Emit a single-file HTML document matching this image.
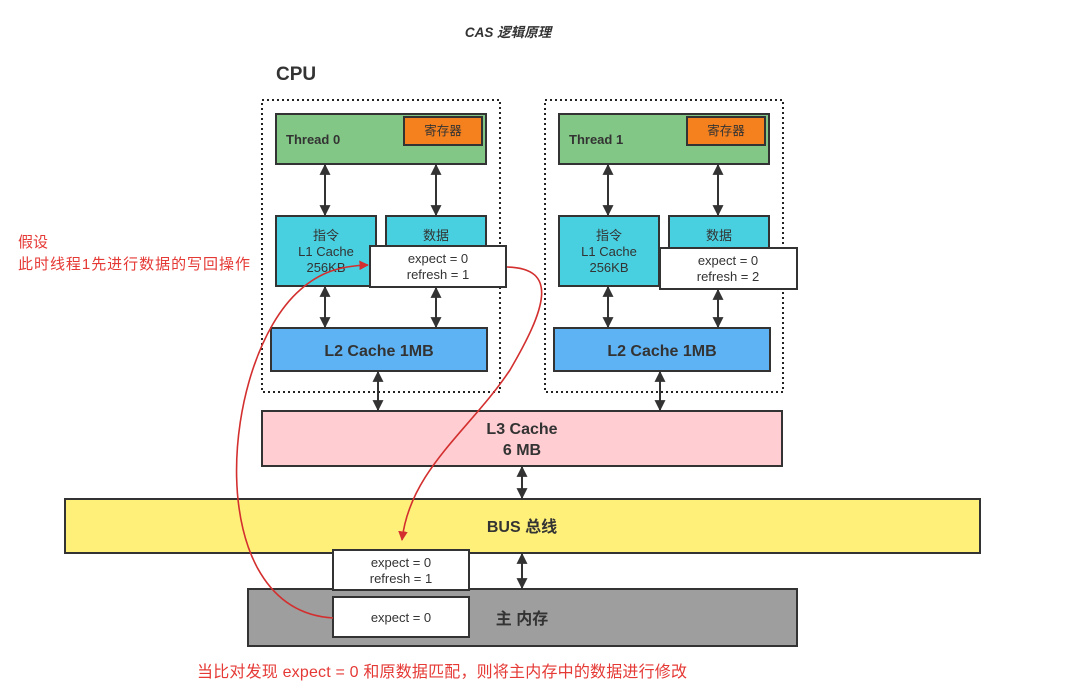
<!DOCTYPE html>
<html><head><meta charset="utf-8"><style>
body{margin:0;background:#fff}
svg{display:block}
text{font-family:"Liberation Sans","Noto Sans CJK SC",sans-serif;fill:#333}
</style></head><body>
<svg width="1069" height="697" viewBox="0 0 1069 697" xmlns="http://www.w3.org/2000/svg">
<defs>
<marker id="a" viewBox="0 0 10 10" refX="9" refY="5" markerWidth="5.5" markerHeight="5.5" orient="auto-start-reverse"><path d="M0,0L10,5L0,10z" fill="#333"/></marker>
<marker id="r" viewBox="0 0 10 10" refX="9" refY="5" markerWidth="6" markerHeight="6" orient="auto"><path d="M0,0L10,5L0,10z" fill="#d32f2f"/></marker>
</defs>
<text x="508" y="37" text-anchor="middle" font-size="13.5" font-style="italic" font-weight="bold">CAS 逻辑原理</text>
<text x="276" y="80" font-size="19" font-weight="bold">CPU</text>
<g fill="none" stroke="#222" stroke-width="2" stroke-dasharray="2,3">
<rect x="262" y="100" width="238" height="292"/><rect x="545" y="100" width="238" height="292"/></g>
<g stroke="#333" stroke-width="2">
<rect x="276" y="114" width="210" height="50" fill="#82c785"/>
<rect x="404" y="117" width="78" height="28" fill="#f5801e"/>
<rect x="276" y="216" width="100" height="70" fill="#48d0e0"/>
<rect x="386" y="216" width="100" height="70" fill="#48d0e0"/>
<rect x="271" y="328" width="216" height="43" fill="#5eb3f5"/>
<rect x="559" y="114" width="210" height="50" fill="#82c785"/>
<rect x="687" y="117" width="78" height="28" fill="#f5801e"/>
<rect x="559" y="216" width="100" height="70" fill="#48d0e0"/>
<rect x="669" y="216" width="100" height="70" fill="#48d0e0"/>
<rect x="554" y="328" width="216" height="43" fill="#5eb3f5"/>
<rect x="262" y="411" width="520" height="55" fill="#ffcdd2"/>
<rect x="65" y="499" width="915" height="54" fill="#fff07a"/>
<rect x="248" y="589" width="549" height="57" fill="#9e9e9e"/>
</g>
<g font-size="13" text-anchor="middle">
<text x="443" y="135" font-size="12.5">寄存器</text><text x="726" y="135" font-size="12.5">寄存器</text>
<text x="326" y="240">指令</text><text x="326" y="256">L1 Cache</text><text x="326" y="272">256KB</text>
<text x="436" y="240">数据</text>
<text x="609" y="240">指令</text><text x="609" y="256">L1 Cache</text><text x="609" y="272">256KB</text>
<text x="719" y="240">数据</text>
</g>
<g font-weight="bold">
<text x="286" y="144" font-size="13">Thread 0</text><text x="569" y="144" font-size="13">Thread 1</text>
<text x="379" y="356" font-size="16" text-anchor="middle">L2 Cache 1MB</text>
<text x="662" y="356" font-size="16" text-anchor="middle">L2 Cache 1MB</text>
<text x="522" y="434" font-size="16" text-anchor="middle">L3 Cache</text>
<text x="522" y="455" font-size="16" text-anchor="middle">6 MB</text>
<text x="522" y="532" font-size="16" text-anchor="middle">BUS 总线</text>
<text x="522" y="624" font-size="16" text-anchor="middle">主 内存</text>
</g>
<g stroke="#333" stroke-width="2" marker-start="url(#a)" marker-end="url(#a)">
<line x1="325" y1="165" x2="325" y2="215"/><line x1="436" y1="165" x2="436" y2="215"/>
<line x1="325" y1="287" x2="325" y2="327"/><line x1="436" y1="288" x2="436" y2="327"/>
<line x1="608" y1="165" x2="608" y2="215"/><line x1="718" y1="165" x2="718" y2="215"/>
<line x1="608" y1="287" x2="608" y2="327"/><line x1="718" y1="290" x2="718" y2="327"/>
<line x1="378" y1="372" x2="378" y2="410"/><line x1="660" y1="372" x2="660" y2="410"/>
<line x1="522" y1="467" x2="522" y2="498"/><line x1="522" y1="554" x2="522" y2="588"/>
</g>
<g stroke="#333" stroke-width="2" fill="#fff">
<rect x="370" y="246" width="136" height="41"/>
<rect x="660" y="248" width="137" height="41"/>
<rect x="333" y="550" width="136" height="40"/>
<rect x="333" y="597" width="136" height="40"/>
</g>
<g font-size="13" text-anchor="middle">
<text x="438" y="263">expect = 0</text><text x="438" y="279">refresh = 1</text>
<text x="728" y="265">expect = 0</text><text x="728" y="281">refresh = 2</text>
<text x="401" y="567">expect = 0</text><text x="401" y="583">refresh = 1</text>
<text x="401" y="622">expect = 0</text>
</g>
<g fill="none" stroke="#d32f2f" stroke-width="1.6">
<path d="M333,618 C200,610 220,360 300,290 C320,272 340,266 368,265" marker-end="url(#r)"/>
<path d="M507,267 C560,268 545,310 510,370 C470,430 410,470 402,540" marker-end="url(#r)"/>
</g>
<g font-size="15">
<text x="18" y="247" style="fill:#e53935">假设</text>
<text x="18" y="269" style="fill:#e53935" textLength="232">此时线程1先进行数据的写回操作</text>
<text x="442" y="677" text-anchor="middle" font-size="16" style="fill:#e53935" textLength="490">当比对发现 expect = 0 和原数据匹配，则将主内存中的数据进行修改</text>
</g>
</svg>
</body></html>
